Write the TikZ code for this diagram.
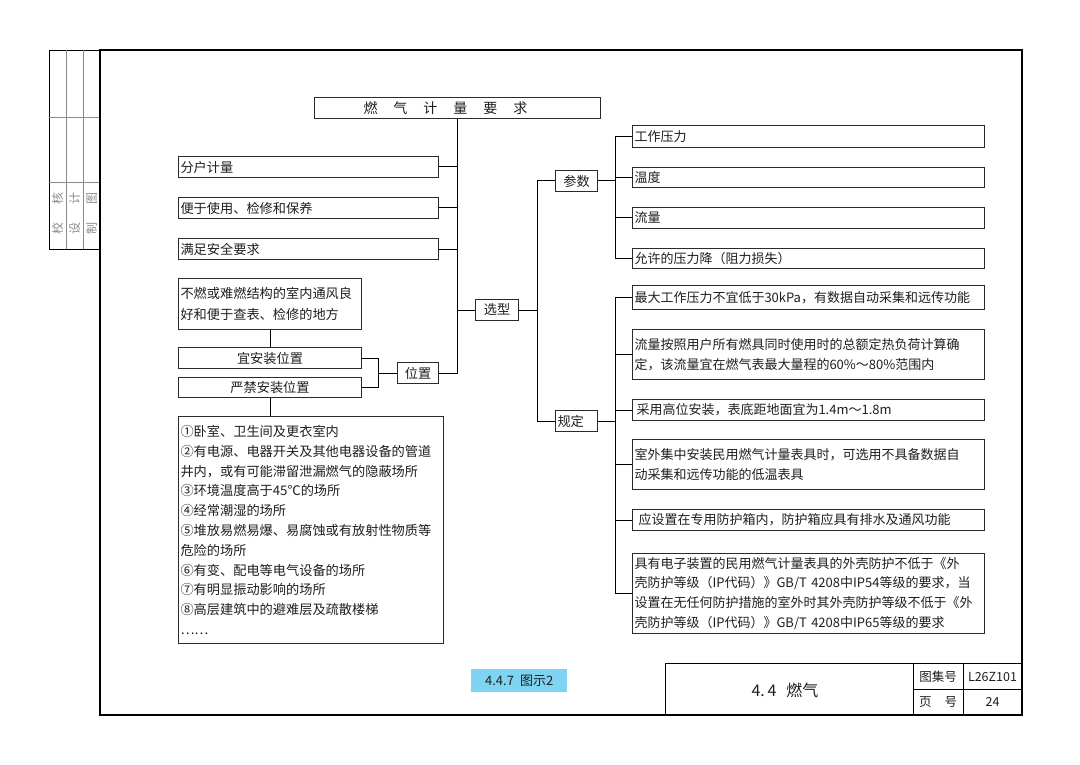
\documentclass[tikz,border=0pt]{standalone}
\usepackage{fontspec}
\newfontfamily\cjk{Noto Sans CJK SC}
\definecolor{txt}{HTML}{1E1E1E}
\definecolor{bline}{HTML}{2A2A2A}
\definecolor{lblue}{HTML}{7FD4F2}
\definecolor{stripgray}{HTML}{8A8A8A}
\begin{document}
\begin{tikzpicture}[x=1pt,y=-1pt,
  every node/.style={font=\cjk\fontsize{13.2}{19.8}\selectfont, text=txt, inner sep=0pt},
  box/.style={draw=bline, line width=1pt, inner xsep=2pt, inner ysep=0pt, anchor=north west, align=left},
  cbox/.style={draw=bline, line width=1pt, inner xsep=2pt, inner ysep=0pt, anchor=north west, align=center},
  wire/.style={line width=1pt, draw=black},
  frame/.style={line width=2.6pt, draw=black},
  thinline/.style={line width=0.9pt, draw=black},
  striplbl/.style={text=stripgray, rotate=90, font=\cjk\fontsize{12}{13}\selectfont}]
\useasboundingbox (0,0) rectangle (1080,765);

% ---------- frame and strip ----------
\draw[thinline] (49,50) rectangle (100,249);
\draw[line width=0.7pt, draw=stripgray] (66,50) -- (66,249) (83,50) -- (83,249);
\draw[line width=0.7pt, draw=stripgray] (49,117) -- (100,117) (49,182) -- (100,182);
\node[striplbl] (s1) at (57.5,213) {校\hspace{18pt}核};
\node[striplbl] (s2) at (74.5,213) {设\hspace{18pt}计};
\node[striplbl] (s3) at (91.5,213) {制\hspace{18pt}图};
\draw[frame] (100,50) rectangle (1022,715);

% ---------- title block ----------
\draw[thinline] (665,663) -- (1022,663) (665,663) -- (665,715)
  (913,663) -- (913,715) (963,663) -- (963,715) (913,689) -- (1022,689);
\node[font=\cjk\fontsize{16}{18}\selectfont] (tb) at (785,690) {4.\,4\hspace{10pt}燃气};
\node[font=\cjk\fontsize{12.5}{14}\selectfont] (tj) at (938,676.5) {图集号};
\node[font=\cjk\fontsize{12.5}{14}\selectfont] (tjv) at (992.5,676.5) {L26Z101};
\node[font=\cjk\fontsize{12.5}{14}\selectfont] (ym) at (938,702) {页\hspace{13pt}号};
\node[font=\cjk\fontsize{12.5}{14}\selectfont] (ymv) at (992.5,702) {24};
\node[fill=lblue, anchor=north west, minimum width=96pt, minimum height=23pt,
  font=\cjk\fontsize{13}{14}\selectfont] (lab) at (471,669) {4.4.7\hspace{6pt}图示2};

% ---------- chart ----------
\node[box, minimum width=286pt, text width=282pt, minimum height=21pt,
  font=\cjk\fontsize{14}{16}\selectfont] (title) at (314,97)
  {\hspace*{47pt}燃\hspace{16pt}气\hspace{16pt}计\hspace{16pt}量\hspace{16pt}要\hspace{16pt}求};

\node[box, minimum width=260pt, text width=256pt, minimum height=21pt] (fh) at (178,156) {分户计量};
\node[box, minimum width=260pt, text width=256pt, minimum height=21pt] (bx) at (178,197) {便于使用、检修和保养};
\node[box, minimum width=260pt, text width=256pt, minimum height=21pt] (aq) at (178,238) {满足安全要求};

\node[box, minimum width=183pt, text width=179pt, minimum height=51pt] (bd) at (178,278)
  {不燃或难燃结构的室内通风良\\[2pt]好和便于查表、检修的地方};
\node[cbox, minimum width=183pt, text width=179pt, minimum height=21pt] (yz) at (178,347) {宜安装位置};
\node[cbox, minimum width=183pt, text width=179pt, minimum height=20pt] (yj) at (178,377) {严禁安装位置};
\node[cbox, minimum width=41pt, minimum height=21pt] (wz) at (397,362) {位置};
\node[cbox, minimum width=43pt, minimum height=21pt] (xx) at (475,299) {选型};
\node[cbox, minimum width=42pt, minimum height=21pt] (cs) at (555,170) {参数};
\node[box, minimum width=42pt, text width=38pt, minimum height=21pt] (gd) at (555,410) {规定};

\node[box, minimum width=265pt, text width=261pt, minimum height=227pt] (list) at (178,416)
  {①卧室、卫生间及更衣室内\\
   ②有电源、电器开关及其他电器设备的管道\\
   井内，或有可能滞留泄漏燃气的隐蔽场所\\
   ③环境温度高于45℃的场所\\
   ④经常潮湿的场所\\
   ⑤堆放易燃易爆、易腐蚀或有放射性物质等\\
   危险的场所\\
   ⑥有变、配电等电气设备的场所\\
   ⑦有明显振动影响的场所\\
   ⑧高层建筑中的避难层及疏散楼梯\\
   ……};

\tikzset{rbox/.style={box, minimum width=352pt, text width=348pt, font=\cjk\fontsize{13}{19.8}\selectfont}}
\node[rbox, minimum height=22pt] (p1) at (632,125) {工作压力};
\node[rbox, minimum height=20pt] (p2) at (632,167) {温度};
\node[rbox, minimum height=21pt] (p3) at (632,207) {流量};
\node[rbox, minimum height=20pt] (p4) at (632,248) {允许的压力降（阻力损失）};

\node[rbox, minimum height=24pt] (r1) at (632,285) {最大工作压力不宜低于30kPa，有数据自动采集和远传功能};
\node[rbox, minimum height=50pt] (r2) at (632,329)
  {流量按照用户所有燃具同时使用时的总额定热负荷计算确\\定，该流量宜在燃气表最大量程的60\%～80\%范围内};
\node[rbox, minimum height=21pt] (r3) at (632,399) {\hspace*{2pt}采用高位安装，表底距地面宜为1.4m～1.8m};
\node[rbox, minimum height=50pt] (r4) at (632,439)
  {室外集中安装民用燃气计量表具时，可选用不具备数据自\\动采集和远传功能的低温表具};
\node[rbox, minimum height=21pt] (r5) at (632,509) {\hspace*{4pt}应设置在专用防护箱内，防护箱应具有排水及通风功能};
\node[rbox, minimum height=80pt] (r6) at (632,553)
  {具有电子装置的民用燃气计量表具的外壳防护不低于《外\\
   壳防护等级（IP代码）》GB/T 4208中IP54等级的要求，当\\
   设置在无任何防护措施的室外时其外壳防护等级不低于《外\\
   壳防护等级（IP代码）》GB/T 4208中IP65等级的要求};

% ---------- connectors ----------
\coordinate (b1) at (378,0);
\coordinate (b2) at (537,0);
\coordinate (b3) at (615,0);
\draw[wire] (title.south) |- (wz.east);
\foreach \n in {fh,bx,aq} \draw[wire] (\n.east) -- (\n.east -| title.south);
\draw[wire] (xx.west) -- (xx.west -| title.south);
\draw[wire] (xx.east) -- (xx.east -| b2);
\draw[wire] (cs.west) -| (b2 |- gd.west) -- (gd.west);
\draw[wire] (yz.east) -| (b1 |- yj.east) -- (yj.east);
\draw[wire] (wz.west) -- (wz.west -| b1);
\draw[wire] (bd.south) -- (yz.north);
\draw[wire] (yj.south) -- (yj.south |- list.north);
\draw[wire] (cs.east) -- (cs.east -| b3);
\draw[wire] (p1.west) -| (b3 |- p4.west) -- (p4.west);
\foreach \n in {p2,p3} \draw[wire] (\n.west) -- (\n.west -| b3);
\draw[wire] (gd.east) -- (gd.east -| b3);
\draw[wire] (r1.west) -| (b3 |- r6.west) -- (r6.west);
\foreach \n in {r2,r3,r4,r5} \draw[wire] (\n.west) -- (\n.west -| b3);
\end{tikzpicture}
\end{document}
